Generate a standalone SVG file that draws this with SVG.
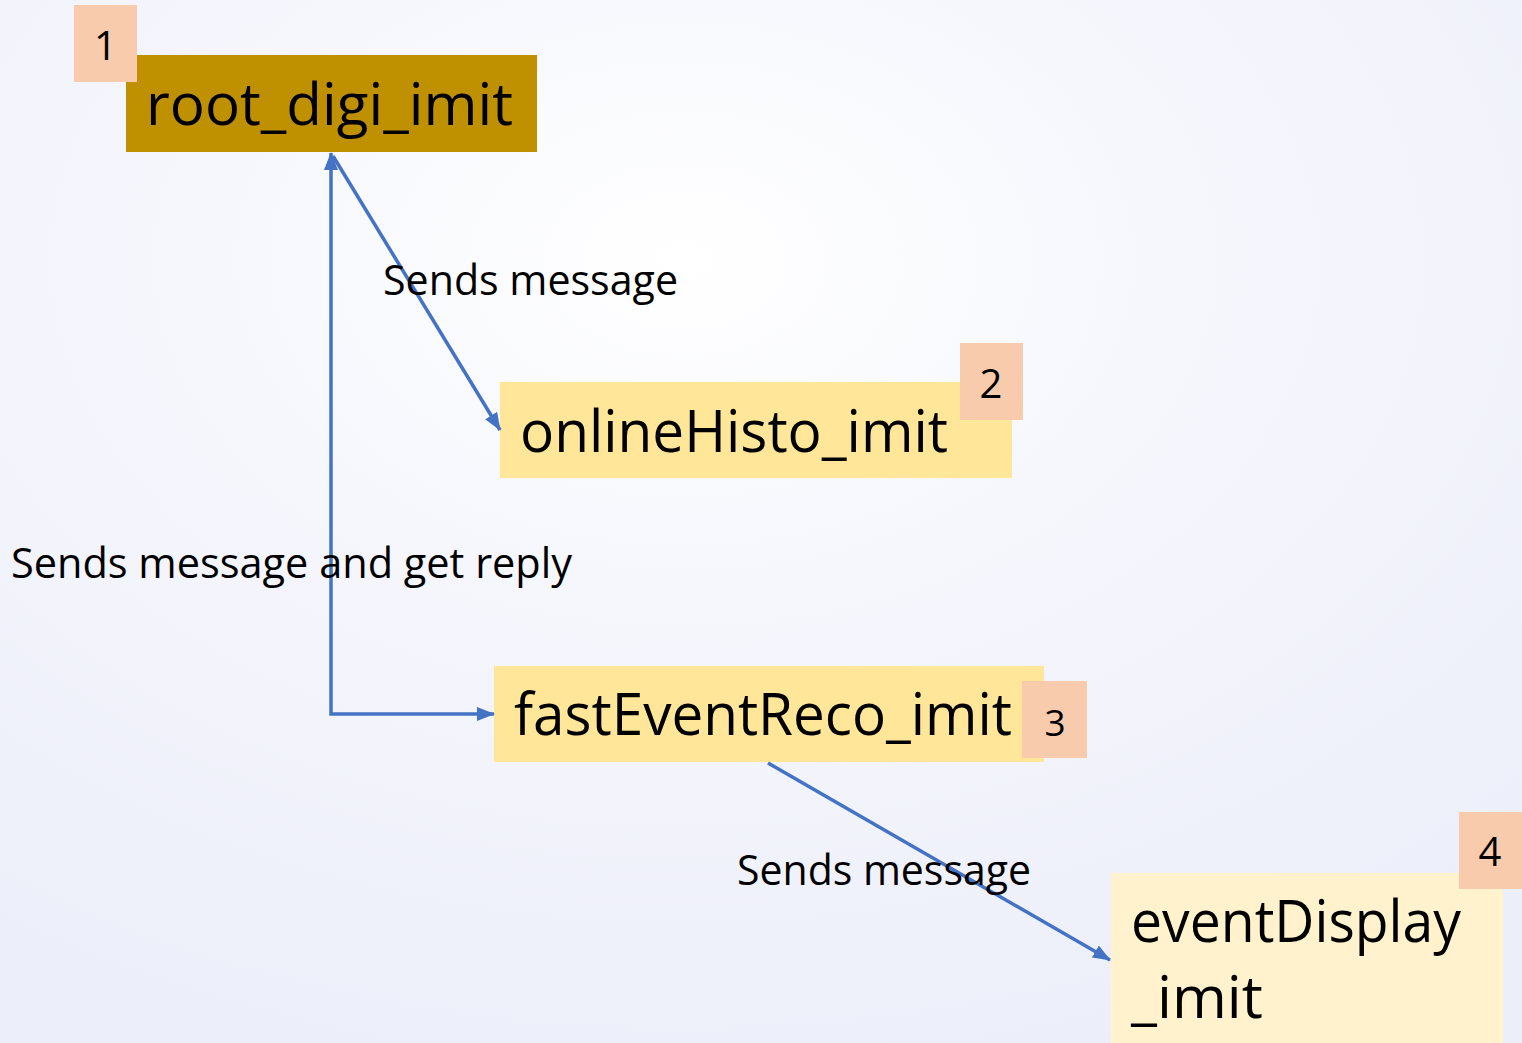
<svg xmlns="http://www.w3.org/2000/svg" width="1522" height="1043" viewBox="0 0 1522 1043">
  <style>
    .node-text { font-family: "Open Sans", "Noto Sans", sans-serif; font-size: 58px; fill: #000; }
    .badge-text { font-family: "Open Sans", "Noto Sans", sans-serif; font-size: 40px; fill: #000; }
    .label { font-family: "Open Sans", "Noto Sans", sans-serif; font-size: 42px; fill: #000; }
    .badge { fill: #F8CBAD; }
    .conn { fill: none; stroke: #4472C4; stroke-width: 3.5; }
  </style>
  <defs>
    <radialGradient id="bg" cx="0.45" cy="0.25" r="0.8">
      <stop offset="0" stop-color="#FFFFFF"/>
      <stop offset="0.4" stop-color="#F6F7FD"/>
      <stop offset="1" stop-color="#ECEEF9"/>
    </radialGradient>
    <marker id="arrow" markerUnits="userSpaceOnUse" markerWidth="18" markerHeight="14" refX="17" refY="7" orient="auto-start-reverse" viewBox="0 0 18 14">
      <path d="M0,0 L18,7 L0,14 z" fill="#4472C4"/>
    </marker>
  </defs>

  <rect x="0" y="0" width="1522" height="1043" fill="url(#bg)"/>

  <g id="node-root_digi_imit">
    <rect x="126" y="55" width="411" height="97" fill="#BF9000"/>
    <text class="node-text" x="146" y="125" textLength="367" lengthAdjust="spacingAndGlyphs">root_digi_imit</text>
    <rect class="badge" x="74" y="5" width="63" height="77"/>
    <text class="badge-text" x="105.5" y="60" text-anchor="middle">1</text>
  </g>

  <g id="node-onlineHisto_imit">
    <rect x="500" y="382" width="512" height="96" fill="#FFE699"/>
    <text class="node-text" x="520" y="452" textLength="428" lengthAdjust="spacingAndGlyphs">onlineHisto_imit</text>
    <rect class="badge" x="960" y="343" width="63" height="77"/>
    <text class="badge-text" x="991" y="398" text-anchor="middle">2</text>
  </g>

  <g id="node-fastEventReco_imit">
    <rect x="494" y="666" width="550" height="96" fill="#FFE699"/>
    <text class="node-text" x="514" y="735" textLength="498" lengthAdjust="spacingAndGlyphs">fastEventReco_imit</text>
    <rect class="badge" x="1022" y="681" width="65" height="77"/>
    <text class="badge-text" x="1055" y="736" text-anchor="middle" style="font-size:37px">3</text>
  </g>

  <g id="node-eventDisplay_imit">
    <rect x="1111" y="873" width="392" height="175" fill="#FFF2CC"/>
    <text class="node-text" x="1131" y="942" textLength="330" lengthAdjust="spacingAndGlyphs">eventDisplay</text>
    <text class="node-text" x="1131" y="1018" textLength="132" lengthAdjust="spacingAndGlyphs">_imit</text>
    <rect class="badge" x="1459" y="812" width="63" height="77"/>
    <text class="badge-text" x="1490" y="866" text-anchor="middle">4</text>
  </g>

  <g id="connectors">
    <line class="conn" x1="333" y1="156" x2="500" y2="430" marker-end="url(#arrow)"/>
    <path class="conn" d="M331,153 L331,714 L494,714" marker-start="url(#arrow)" marker-end="url(#arrow)"/>
    <line class="conn" x1="768" y1="763" x2="1110" y2="960" marker-end="url(#arrow)"/>
  </g>

  <g id="labels">
    <text class="label" x="383" y="295" textLength="295" lengthAdjust="spacingAndGlyphs">Sends message</text>
    <text class="label" x="11" y="578" textLength="561" lengthAdjust="spacingAndGlyphs">Sends message and get reply</text>
    <text class="label" x="737" y="885" textLength="294" lengthAdjust="spacingAndGlyphs">Sends message</text>
  </g>
</svg>
